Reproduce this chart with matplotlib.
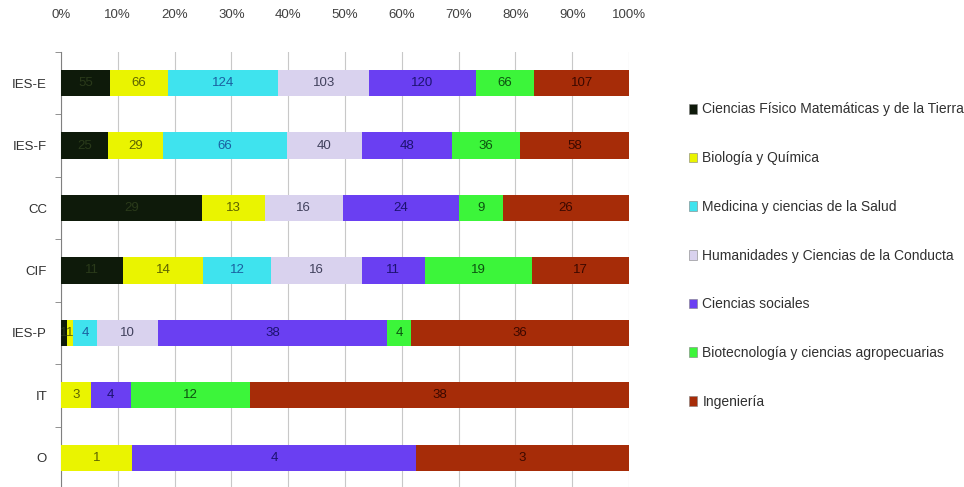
import matplotlib
matplotlib.use("Agg")
import matplotlib.pyplot as plt
import numpy as np
from matplotlib.patches import Patch

plt.rcParams['font.family'] = ['Liberation Sans Narrow', 'Liberation Sans', 'DejaVu Sans']

# Institution types (top to bottom)
institutions = ["IES-E", "IES-F", "CC", "CIF", "IES-P", "IT", "O"]

# Knowledge areas
areas = [
    "Ciencias Físico Matemáticas y de la Tierra",
    "Biología y Química",
    "Medicina y ciencias de la Salud",
    "Humanidades y Ciencias de la Conducta",
    "Ciencias sociales",
    "Biotecnología y ciencias agropecuarias",
    "Ingeniería",
]

# Counts per area, one list per institution (same order as `areas`)
ies_e = [55, 66, 124, 103, 120, 66, 107]
ies_f = [25, 29, 66, 40, 48, 36, 58]
cc    = [29, 13, 0, 16, 24, 9, 26]
cif   = [11, 14, 12, 16, 11, 19, 17]
ies_p = [1, 1, 4, 10, 38, 4, 36]
it    = [0, 3, 0, 0, 4, 12, 38]
o     = [0, 1, 0, 0, 4, 0, 3]

tick_labels = ["0%", "10%", "20%", "30%", "40%", "50%", "60%", "70%", "80%", "90%", "100%"]

colors = ["#0e1a0a", "#eaf400", "#3fe3ee", "#d9d2ee", "#6a3ff2", "#3cf53a", "#a62c08"]
text_colors = ["#2a3a1a", "#5c6200", "#1a5fa0", "#40405c", "#1c1270", "#0c5210", "#3a0800"]

counts = np.array([ies_e, ies_f, cc, cif, ies_p, it, o], dtype=float)
shares = counts / counts.sum(axis=1, keepdims=True) * 100

fig = plt.figure(figsize=(9.64, 4.87), dpi=100)
ax = fig.add_axes([61 / 964, -0.004, 568 / 964, (487 - 50) / 487])

y = np.arange(len(institutions))
left = np.zeros(len(institutions))
for j, area in enumerate(areas):
    ax.barh(y, shares[:, j], left=left, height=0.42, color=colors[j], edgecolor="none", zorder=3)
    for i in range(len(institutions)):
        if counts[i, j] > 0:
            ax.text(left[i] + shares[i, j] / 2, y[i], f"{int(counts[i, j])}",
                    ha="center", va="center", fontsize=9.5, color=text_colors[j], zorder=4)
    left += shares[:, j]

ax.set_xlim(0, 100)
ax.set_ylim(len(institutions) - 0.5, -0.5)
ax.set_xticks(np.arange(0, 101, 10))
ax.set_xticklabels(tick_labels, fontsize=9.5, color="#404040")
ax.xaxis.tick_top()
ax.tick_params(axis="x", length=0, pad=22)
ax.set_yticks(y)
ax.set_yticklabels(institutions, fontsize=9.5, color="#303030")
ax.tick_params(axis="y", length=0, pad=10)
ax.set_yticks(np.arange(-0.5, len(institutions), 1), minor=True)
ax.tick_params(axis="y", which="minor", length=4, color="#808080")
ax.grid(axis="x", color="#c8c8c8", linewidth=0.8, zorder=0)
for s in ["top", "right", "bottom"]:
    ax.spines[s].set_visible(False)
ax.spines["left"].set_color("#808080")

handles = [Patch(facecolor=c, edgecolor="#808080", linewidth=0.4) for c in colors]
fig.legend(handles, areas, loc="upper left", bbox_to_anchor=(676 / 964, 1 - 90 / 487),
           frameon=False, fontsize=10, labelspacing=2.5, handlelength=0.6,
           handleheight=0.7, handletextpad=0.4, labelcolor="#303030")

fig.savefig("out.png", dpi=100, facecolor="white")
